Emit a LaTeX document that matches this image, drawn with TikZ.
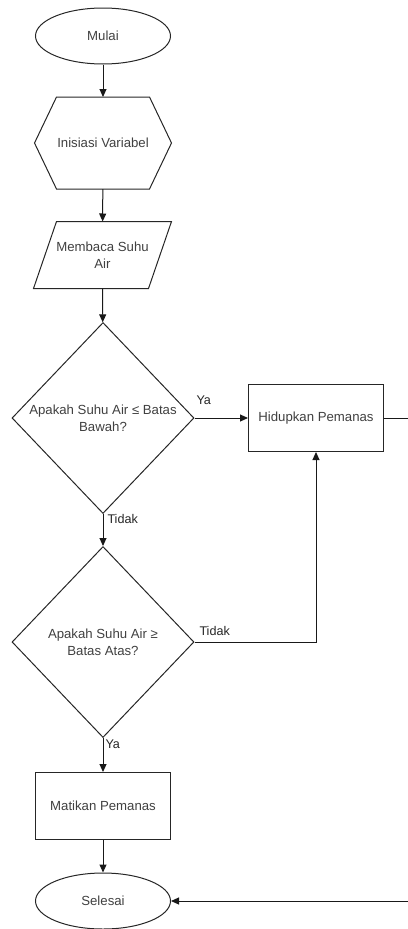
\documentclass[tikz,border=0pt]{standalone}
\usepackage{fontspec}
\setmainfont{Liberation Sans}
\usetikzlibrary{shapes.geometric,arrows.meta}
\begin{document}
\begin{tikzpicture}[x=1pt,y=-1pt,
  font=\fontsize{13.2}{17}\selectfont,
  line width=1pt,
  base/.style={draw=black!85, text=black!75, align=center, inner sep=0pt},
  term/.style={base, ellipse, minimum width=135pt, minimum height=56pt},
  proc/.style={base, rectangle, minimum width=135pt, minimum height=67pt},
  shapebox/.style={draw=none, text=black!75, align=center, inner sep=0pt, minimum width=136pt},
  decide/.style={base, diamond, minimum width=182pt, minimum height=191pt, aspect=0.95},
  lbl/.style={text=black!85, inner sep=0pt, font=\fontsize{12.6}{15}\selectfont},
  conn/.style={draw=black!90, line width=1pt, -{Triangle[length=8pt,width=7pt]}},
  plain/.style={draw=black!90, line width=1pt}
]
\useasboundingbox (0,0) rectangle (407,929);

% nodes
\node[term] (mulai) at (103,36) {Mulai};
\node[shapebox, minimum height=91pt] (ini) at (103,143) {Inisiasi Variabel};
\draw[draw=black!85] (ini.west) -- ([xshift=22pt]ini.north west) -- ([xshift=-22pt]ini.north east)
  -- (ini.east) -- ([xshift=-22pt]ini.south east) -- ([xshift=22pt]ini.south west) -- cycle;
\node[shapebox, minimum height=66pt, minimum width=137pt] (baca) at (102.5,255) {Membaca Suhu\\Air};
\draw[draw=black!85] ([xshift=23pt]baca.north west) -- (baca.north east)
  -- ([xshift=-23pt]baca.south east) -- (baca.south west) -- cycle;
\node[decide] (d1) at (103,418) {Apakah Suhu Air ≤ Batas\\Bawah?};
\node[proc] (hidup) at (316,418) {Hidupkan Pemanas};
\node[decide] (d2) at (103,642) {Apakah Suhu Air ≥\\Batas Atas?};
\node[proc] (mati) at (103,806) {Matikan Pemanas};
\node[term] (selesai) at (103,901) {Selesai};

\coordinate (r1) at (408,418);
\coordinate (r2) at (408,901);
\coordinate (c1) at (316,642);

% connectors
\draw[conn] (mulai) -- (ini);
\draw[conn] (ini) -- (baca);
\draw[conn] (baca) -- (d1);
\draw[conn] (d1.east) -- (hidup.west);
\draw[conn] (d1.south) -- (d2.north);
\draw[conn] (d2.east) -- (c1) -- (hidup.south);
\draw[conn] (d2.south) -- (mati.north);
\draw[conn] (mati) -- (selesai);
\draw[plain] (hidup.east) -- (r1) -- (r2);
\draw[conn] (r2) -- (selesai.east);

% labels
\node[lbl, anchor=west] (ya1) at (196,400) {Ya};
\node[lbl, anchor=west] (tidak1) at (107,519) {Tidak};
\node[lbl, anchor=west] (tidak2) at (199,631) {Tidak};
\node[lbl, anchor=west] (ya2) at (105,744) {Ya};
\end{tikzpicture}
\end{document}
